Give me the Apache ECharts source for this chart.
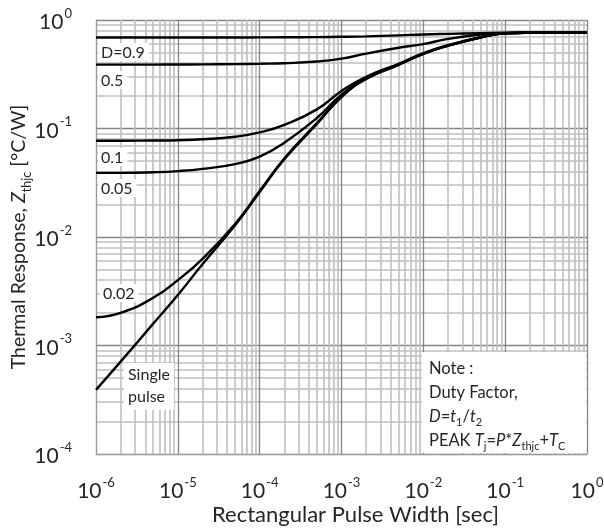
<!DOCTYPE html>
<html>
<head>
<meta charset="utf-8">
<script src="https://cdn.jsdelivr.net/npm/echarts@6/dist/echarts.min.js"></script>
<style>
  html, body { margin: 0; padding: 0; background: #fff; }
  #chart { width: 604px; height: 530px; }
</style>
</head>
<body>
<div id="chart"></div>
<script>
const pulseWidths = [1e-6, 2e-6, 5e-6, 1e-5, 2e-5, 5e-5, 1e-4, 2e-4, 5e-4, 1e-3, 2e-3, 5e-3, 1e-2, 2e-2, 5e-2, 1e-1, 2e-1, 5e-1, 1];

// Zthjc [°C/W] per duty factor
const d090 = [0.69, 0.69, 0.69, 0.69, 0.69, 0.69, 0.691, 0.693, 0.696, 0.70, 0.707, 0.722, 0.736, 0.745, 0.755, 0.762, 0.764, 0.765, 0.765];
const d050 = [0.388, 0.388, 0.388, 0.389, 0.390, 0.392, 0.395, 0.40, 0.415, 0.44, 0.49, 0.555, 0.60, 0.67, 0.735, 0.757, 0.763, 0.765, 0.765];
const d010 = [0.077, 0.077, 0.0775, 0.078, 0.0795, 0.084, 0.092, 0.108, 0.15, 0.222, 0.30, 0.395, 0.495, 0.585, 0.695, 0.755, 0.763, 0.765, 0.765];
const d005 = [0.039, 0.039, 0.0395, 0.0405, 0.0425, 0.047, 0.055, 0.074, 0.125, 0.205, 0.292, 0.39, 0.49, 0.582, 0.692, 0.755, 0.763, 0.765, 0.765];
const d002 = [0.00182, 0.0020, 0.00275, 0.0040, 0.0063, 0.0132, 0.0265, 0.053, 0.112, 0.197, 0.288, 0.388, 0.488, 0.58, 0.69, 0.754, 0.763, 0.765, 0.765];
const single = [0.00039, 0.00071, 0.00159, 0.00292, 0.0056, 0.0128, 0.026, 0.052, 0.11, 0.195, 0.286, 0.386, 0.487, 0.579, 0.69, 0.754, 0.763, 0.765, 0.765];

const seriesList = [
  { name: "D=0.9", values: d090 },
  { name: "0.5", values: d050 },
  { name: "0.1", values: d010 },
  { name: "0.05", values: d005 },
  { name: "0.02", values: d002 },
  { name: "Single pulse", values: single },
];

const FONT = "Lato, 'Open Sans', sans-serif";
const TEXT = "#262626";

function powLabel(v) {
  const exp = Math.round(Math.log10(v));
  return `{b|10}{s|${exp}}`;
}

const tickRich = {
  b: { fontSize: 21, fontFamily: FONT, color: TEXT, lineHeight: 26, verticalAlign: "bottom" },
  s: { fontSize: 13, fontFamily: FONT, color: TEXT, lineHeight: 26, verticalAlign: "top", padding: [0, 0, 0, 1] },
};

const chart = echarts.init(document.getElementById("chart"));

// white-boxed curve labels
function boxLabel(text, x, y) {
  return {
    type: "text",
    left: x,
    top: y,
    z: 50,
    style: {
      text,
      fontSize: 16,
      fontFamily: FONT,
      fill: TEXT,
      backgroundColor: "#fff",
      padding: [1, 4, 0, 3],
      lineHeight: 17,
    },
  };
}

const option = {
  animation: false,
  backgroundColor: "#fff",
  grid: { left: 96, right: 17, top: 20, bottom: 76, outerBoundsMode: "none", containLabel: false },
  xAxis: {
    type: "log",
    logBase: 10,
    min: 1e-6,
    max: 1,
    name: "Rectangular Pulse Width [sec]",
    nameLocation: "middle",
    nameMoveOverlap: false,
    nameGap: 50,
    nameTextStyle: { fontSize: 22, fontFamily: FONT, color: TEXT, padding: [0, 0, 0, 28] },
    axisLine: { show: true, lineStyle: { color: "#9a9a9a", width: 1 } },
    axisTick: { show: false },
    axisLabel: { margin: 22, formatter: powLabel, rich: tickRich },
    splitLine: { show: true, lineStyle: { color: "#858585", width: 1.3 } },
    minorTick: { show: false, splitNumber: 9 },
    minorSplitLine: { show: true, lineStyle: { color: "#bfbfbf", width: 1.6 } },
  },
  yAxis: {
    type: "log",
    logBase: 10,
    min: 1e-4,
    max: 1,
    name: "{a|Thermal Response, }{i|Z}{u|thjc}{a| [°C/W]}",
    nameLocation: "middle",
    nameMoveOverlap: false,
    nameGap: 67,
    nameRotate: 90,
    nameTextStyle: {
      rich: {
        a: { fontSize: 19.5, fontFamily: FONT, color: TEXT, lineHeight: 26, verticalAlign: "bottom" },
        i: { fontSize: 19.5, fontFamily: FONT, color: TEXT, fontStyle: "italic", lineHeight: 26, verticalAlign: "bottom" },
        u: { fontSize: 12.5, fontFamily: FONT, color: TEXT, lineHeight: 26, verticalAlign: "bottom", padding: [0, 0, -4, 0] },
      },
    },
    axisLine: { show: true, lineStyle: { color: "#9a9a9a", width: 1 } },
    axisTick: { show: false },
    axisLabel: { margin: 24, formatter: powLabel, rich: tickRich },
    splitLine: { show: true, lineStyle: { color: "#858585", width: 1.3 } },
    minorTick: { show: false, splitNumber: 9 },
    minorSplitLine: { show: true, lineStyle: { color: "#bfbfbf", width: 1.6 } },
  },
  series: seriesList.map((s) => ({
    name: s.name,
    type: "line",
    smooth: 0.5,
    showSymbol: false,
    z: 3,
    lineStyle: { color: "#000", width: 2.4 },
    data: pulseWidths.map((x, i) => [x, s.values[i]]),
  })),
  graphic: [
    boxLabel("D=0.9", 98, 43),
    boxLabel("0.5", 98, 71),
    boxLabel("0.1", 98, 148),
    boxLabel("0.05", 98, 179),
    boxLabel("0.02", 100, 284),
    {
      type: "text",
      left: 124,
      top: 363,
      z: 50,
      style: {
        text: "Single\npulse",
        fontSize: 16,
        fontFamily: FONT,
        fill: TEXT,
        backgroundColor: "#fff",
        padding: [1, 4, 2, 4],
        lineHeight: 22,
      },
    },
    {
      type: "rect",
      left: 422,
      top: 352,
      z: 49,
      shape: { width: 164, height: 101 },
      style: { fill: "#fff" },
    },
    {
      type: "text",
      left: 429,
      top: 360,
      z: 50,
      style: {
        text: [
          "{a|Note :}",
          "{a|Duty Factor,}",
          "{i|D}{a|=}{i|t}{u|1}{a|/}{i|t}{u|2}",
          "{a|PEAK }{i|T}{u|j}{a|=}{i|P}{a|*}{i|Z}{u|thjc}{a|+}{i|T}{u|C}",
        ].join("\n"),
        rich: {
          a: { fontSize: 16.5, fontFamily: FONT, fill: TEXT, lineHeight: 24, verticalAlign: "bottom" },
          i: { fontSize: 16.5, fontFamily: FONT, fill: TEXT, fontStyle: "italic", lineHeight: 24, verticalAlign: "bottom" },
          u: { fontSize: 11, fontFamily: FONT, fill: TEXT, lineHeight: 24, verticalAlign: "bottom", padding: [0, 0, -3, 0] },
        },
      },
    },
  ],
};

chart.setOption(option);
</script>
</body>
</html>
